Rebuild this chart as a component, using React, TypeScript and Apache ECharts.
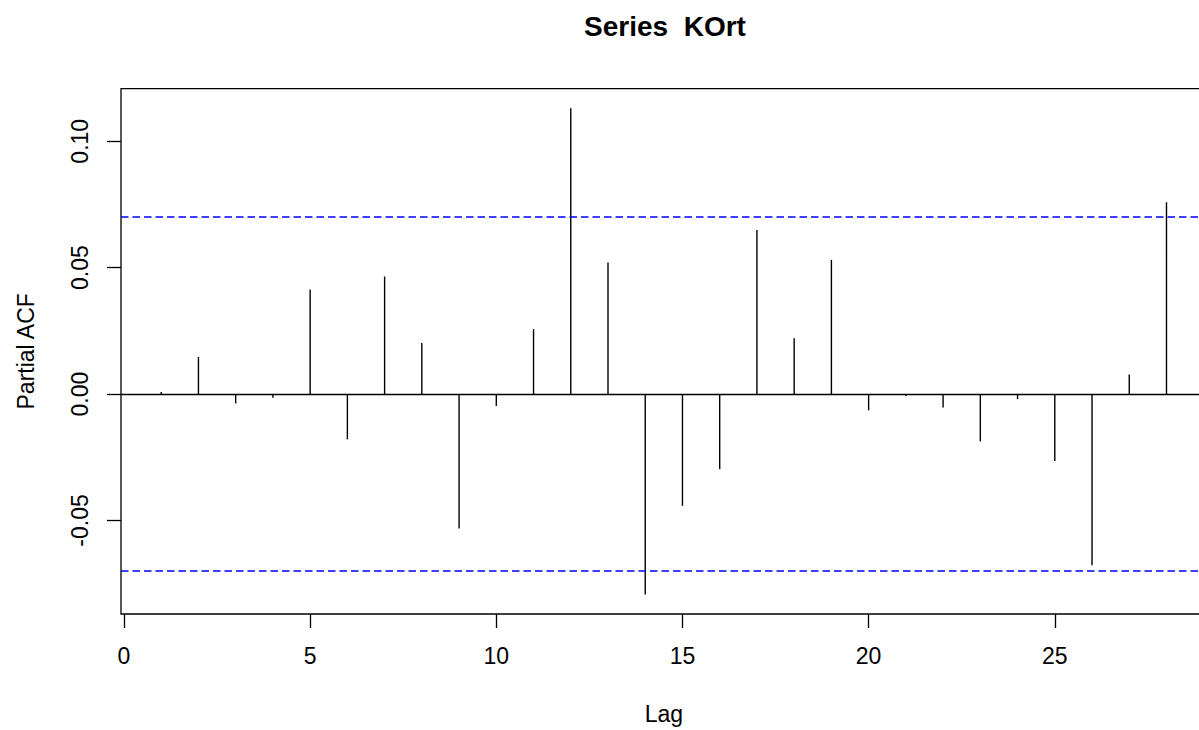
import React, { useEffect, useRef } from "react";
import * as echarts from "echarts";

const lags = [1, 2, 3, 4, 5, 6, 7, 8, 9, 10, 11, 12, 13, 14, 15, 16, 17, 18, 19, 20, 21, 22, 23, 24, 25, 26, 27, 28];
const pacfValues = [
  0.0008, 0.0147, -0.0037, -0.0015, 0.0414, -0.0179, 0.0465, 0.0202, -0.0532, -0.0047,
  0.0257, 0.1131, 0.052, -0.0793, -0.0442, -0.0297, 0.0649, 0.0221, 0.0531, -0.0064,
  -0.0008, -0.0053, -0.0187, -0.002, -0.0265, -0.0677, 0.0077, 0.0759,
];
const ciBound = 0.0703;
const xTicks = [0, 5, 10, 15, 20, 25];
const yTicks = [-0.05, 0, 0.05, 0.1];
const titleText = "Series  KOrt";
const xName = "Lag";
const yName = "Partial ACF";

const FONT = "'Liberation Sans', Arial, sans-serif";

export default function App() {
  const ref = useRef<HTMLDivElement>(null);
  useEffect(() => {
    if (!ref.current) return;
    const chart = echarts.init(ref.current, undefined, { renderer: "svg" });
    const data = lags.map((l, i) => [l, pacfValues[i]]);
    chart.setOption({
      animation: false,
      backgroundColor: "#ffffff",
      title: {
        text: titleText,
        left: 660,
        top: 7,
        textAlign: "center",
        textStyle: { fontFamily: FONT, fontSize: 28, fontWeight: "bold", color: "#000" },
      },
      grid: {
        left: 121,
        top: 88.7,
        width: 1085.7,
        height: 529.3,
        show: true,
        borderColor: "#000",
        borderWidth: 1.3,
        backgroundColor: "transparent",
      },
      xAxis: {
        type: "value",
        min: -0.08,
        max: 29.08,
        name: xName,
        nameLocation: "middle",
        nameGap: 88,
        nameTextStyle: { fontFamily: FONT, fontSize: 23, color: "#000" },
        splitLine: { show: false },
        axisLine: { show: false, onZero: false },
        axisTick: {
          show: true,
          customValues: xTicks,
          length: 14,
          inside: false,
          lineStyle: { color: "#000", width: 1.3 },
        },
        axisLabel: {
          customValues: xTicks,
          margin: 30,
          fontFamily: FONT,
          fontSize: 23,
          color: "#000",
        },
      },
      yAxis: {
        type: "value",
        min: -0.087,
        max: 0.1208,
        name: yName,
        nameLocation: "middle",
        nameGap: 84,
        nameRotate: 90,
        nameTextStyle: { fontFamily: FONT, fontSize: 23, color: "#000" },
        splitLine: { show: false },
        axisLine: { show: false, onZero: false },
        axisTick: {
          show: true,
          customValues: yTicks,
          length: 14,
          inside: false,
          lineStyle: { color: "#000", width: 1.3 },
        },
        axisLabel: {
          customValues: yTicks,
          rotate: 90,
          margin: 30,
          fontFamily: FONT,
          fontSize: 23,
          color: "#000",
          formatter: (v: number) => v.toFixed(2),
        },
      },
      series: [
        {
          type: "custom",
          data,
          clip: true,
          renderItem: (params: any, api: any) => {
            const x = api.value(0);
            const y = api.value(1);
            const p0 = api.coord([x, 0]);
            const p1 = api.coord([x, y]);
            return {
              type: "line",
              shape: { x1: p0[0], y1: p0[1], x2: p1[0], y2: p1[1] },
              style: { stroke: "#000", lineWidth: 1.4 },
            };
          },
          markLine: {
            silent: true,
            symbol: ["none", "none"],
            label: { show: false },
            data: [
              { yAxis: 0, lineStyle: { color: "#000", type: "solid", width: 1.4 } },
              { yAxis: ciBound, lineStyle: { color: "#0000ff", type: [7.5, 4], width: 1.6 } },
              { yAxis: -ciBound, lineStyle: { color: "#0000ff", type: [7.5, 4], width: 1.6 } },
            ],
          },
        },
      ],
    });
    return () => chart.dispose();
  }, []);
  return (
    <div
      style={{ position: "absolute", left: 0, top: 0, width: 1199, height: 730, overflow: "hidden", background: "#fff" }}
    >
      <div ref={ref} style={{ width: 1212, height: 730 }} />
    </div>
  );
}
